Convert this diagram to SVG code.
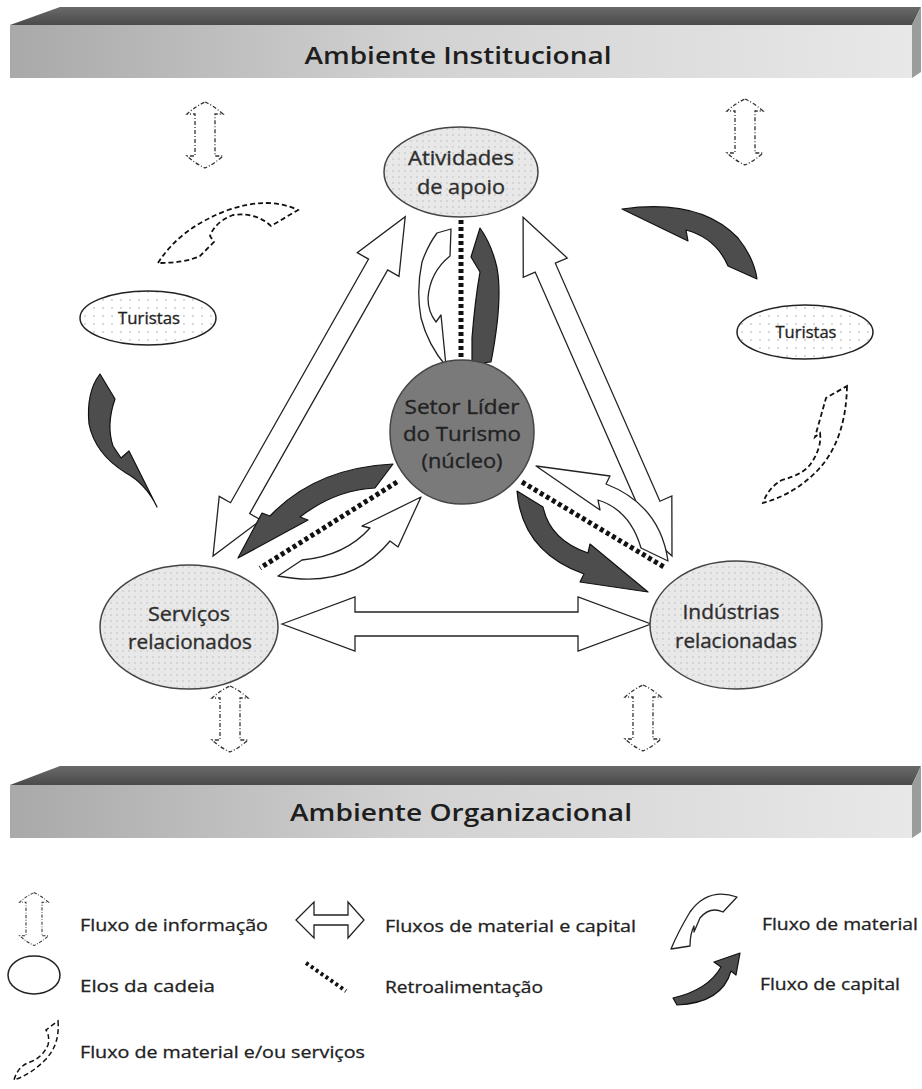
<svg xmlns="http://www.w3.org/2000/svg" width="922" height="1089" viewBox="0 0 922 1089">
<defs>
<linearGradient id="gFront" x1="0" y1="0" x2="1" y2="0">
<stop offset="0" stop-color="#a9a9a9"/><stop offset="0.45" stop-color="#d2d2d2"/><stop offset="1" stop-color="#e8e8e8"/>
</linearGradient>
<linearGradient id="gTop" x1="0" y1="0" x2="0" y2="1">
<stop offset="0" stop-color="#6a6a6a"/><stop offset="1" stop-color="#4a4a4a"/>
</linearGradient>
<pattern id="dots" width="6" height="6" patternUnits="userSpaceOnUse">
<rect width="6" height="6" fill="#e8e8e8"/><circle cx="3" cy="3" r="0.7" fill="#b5b5b5"/>
</pattern>
<pattern id="dotsW" width="9" height="8" patternUnits="userSpaceOnUse">
<rect width="9" height="8" fill="#ffffff"/><circle cx="4" cy="4" r="0.8" fill="#aaaaaa"/>
</pattern>
<path id="infoS" d="M0,-33 Q9,-29 18,-21 L10,-21 L10,21 L18,21 Q9,29 0,33 Q-9,29 -18,21 L-10,21 L-10,-21 L-18,-21 Q-9,-29 0,-33 Z"/>
</defs>
<style>
.bartxt{font-family:"Open Sans","Liberation Sans",sans-serif;font-weight:600;font-size:24px;fill:#1e1e1e}
.ntxt{font-family:"Open Sans","Liberation Sans",sans-serif;font-size:20px;fill:#2e2e2e;stroke:#2e2e2e;stroke-width:0.35;text-anchor:middle}
.ttxt{font-family:"Open Sans","Liberation Sans",sans-serif;font-size:16px;fill:#222;stroke:#222;stroke-width:0.3;text-anchor:middle}
.ltxt{font-family:"Open Sans","Liberation Sans",sans-serif;font-size:17px;fill:#222;stroke:#222;stroke-width:0.3}
.infoA{fill:#fff;stroke:#333;stroke-width:1.3;stroke-dasharray:4 2 1 2}
.dash{fill:#fff;stroke:#111;stroke-width:1.8;stroke-dasharray:5 3}
.dbl{fill:#fff;stroke:#222;stroke-width:1.3;stroke-linejoin:miter}
.mat{fill:#fff;stroke:#222;stroke-width:1.3;stroke-linejoin:round}
.cap{fill:#4d4d4d;stroke:#111;stroke-width:1.2;stroke-linejoin:round}
.fb{fill:none;stroke:#111;stroke-width:5;stroke-dasharray:4 3}
.node{stroke:#444;stroke-width:1.5}
</style>

<g id="bar-institucional">
<polygon points="10,25 60,7 921,7 912,25" fill="url(#gTop)"/>
<polygon points="912,25 921,7 921,72 912,78" fill="#9c9c9c"/>
<rect x="10" y="25" width="902" height="53" fill="url(#gFront)"/>
<text class="bartxt" x="458" y="64" text-anchor="middle" textLength="307" lengthAdjust="spacingAndGlyphs">Ambiente Institucional</text>
</g>

<g id="bar-organizacional">
<polygon points="10,785 60,766 921,766 912,785" fill="url(#gTop)"/>
<polygon points="912,785 921,766 921,832 912,838" fill="#9c9c9c"/>
<rect x="10" y="785" width="902" height="53" fill="url(#gFront)"/>
<text class="bartxt" x="461" y="821" text-anchor="middle" textLength="342" lengthAdjust="spacingAndGlyphs">Ambiente Organizacional</text>
</g>

<g id="connectors">
<use href="#infoS" class="infoA" transform="translate(205,135)"/>
<use href="#infoS" class="infoA" transform="translate(745,132)"/>
<use href="#infoS" class="infoA" transform="translate(230,719)"/>
<use href="#infoS" class="infoA" transform="translate(643,718)"/>

<path class="dbl" transform="translate(213,556) rotate(-60.47)" d="M0,0 L55,-24 L55,-11 L335,-11 L335,-24 L390,0 L335,24 L335,11 L55,11 L55,24 Z"/>
<path class="dbl" transform="translate(672,556) rotate(-113.73)" d="M0,0 L55,-24 L55,-11 L315,-11 L315,-24 L370,0 L315,24 L315,11 L55,11 L55,24 Z"/>
<path class="dbl" d="M282,624 L355,597 L355,612 L578,612 L578,597 L651,624 L578,651 L578,636 L355,636 L355,651 Z"/>

<line class="fb" x1="461" y1="220" x2="461" y2="360"/>
<line class="fb" x1="397" y1="482" x2="260" y2="568"/>
<line class="fb" x1="522" y1="482" x2="664" y2="567"/>

<path class="mat" d="M437,233 L451,229 L450,256 Q430,272 428,298 Q428,312 436,322 L441,315 L446,366 Q428,345 421,318 Q416,290 422,262 Q428,245 437,233 Z"/>
<path class="cap" d="M472,364 L472,338 Q475,300 480,272 L471,257 L480,228 Q492,245 497,268 Q503,300 491,362 Z"/>
<path class="cap" d="M393,464 L375,488 Q335,490 300,517 L308,520 L238,558 L262,513 L270,516 Q315,468 393,464 Z"/>
<path class="mat" d="M278,576 L302,560 Q345,556 370,528 L362,526 L421,497 L398,547 L390,541 Q350,590 278,576 Z"/>
<path class="mat" d="M668,561 L641,548 Q630,510 598,500 L600,510 L536,466 L610,476 L606,484 Q660,505 668,561 Z"/>
<path class="cap" d="M517,491 L543,507 Q550,540 588,553 L590,544 L648,592 L580,582 L584,574 Q522,552 517,491 Z"/>

<path class="cap" d="M622,209 Q700,198 738,238 Q754,258 757,279 L728,266 Q716,238 686,230 L688,241 Z"/>
<path class="cap" d="M100,374 L115,399 Q106,425 113,446 L121,458 L129,451 L157,507 Q146,484 126,473 Q95,454 89,424 Q86,392 100,374 Z"/>
<path class="dash" d="M158,263 Q180,228 228,210 Q268,196 298,210 L271,226 Q256,212 233,215 Q215,222 210,236 L214,242 L200,256 Q185,263 158,263 Z"/>
<path class="dash" d="M847,386 Q846,440 818,470 Q795,494 763,503 Q768,488 782,480 Q805,474 812,462 Q822,446 820,433 L815,437 L826,398 Z"/>
</g>

<g id="node-atividades">
<ellipse class="node" cx="461" cy="172" rx="77" ry="45" fill="url(#dots)"/>
<text class="ntxt" x="461" y="165" textLength="106" lengthAdjust="spacingAndGlyphs">Atividades</text>
<text class="ntxt" x="461" y="194" textLength="88" lengthAdjust="spacingAndGlyphs">de apoio</text>
</g>
<g id="node-setor">
<circle class="node" cx="462" cy="432" r="72" fill="#7a7a7a" stroke="#333"/>
<text class="ntxt" x="462" y="414" textLength="115" lengthAdjust="spacingAndGlyphs" style="fill:#222;stroke:#222">Setor Líder</text>
<text class="ntxt" x="462" y="441" textLength="118" lengthAdjust="spacingAndGlyphs" style="fill:#222;stroke:#222">do Turismo</text>
<text class="ntxt" x="462" y="468" textLength="81" lengthAdjust="spacingAndGlyphs" style="fill:#222;stroke:#222">(núcleo)</text>
</g>
<g id="node-servicos">
<ellipse class="node" cx="189" cy="627" rx="89" ry="62" fill="url(#dots)"/>
<text class="ntxt" x="189" y="621" textLength="82" lengthAdjust="spacingAndGlyphs">Serviços</text>
<text class="ntxt" x="190" y="649" textLength="124" lengthAdjust="spacingAndGlyphs">relacionados</text>
</g>
<g id="node-industrias">
<ellipse class="node" cx="736" cy="625" rx="86" ry="64" fill="url(#dots)"/>
<text class="ntxt" x="731" y="619" textLength="97" lengthAdjust="spacingAndGlyphs">Indústrias</text>
<text class="ntxt" x="736" y="648" textLength="122" lengthAdjust="spacingAndGlyphs">relacionadas</text>
</g>
<g id="node-turistas-esq">
<ellipse cx="148" cy="318" rx="68" ry="27" fill="url(#dotsW)" stroke="#222" stroke-width="1.5"/>
<text class="ttxt" x="149" y="324" textLength="62" lengthAdjust="spacingAndGlyphs">Turistas</text>
</g>
<g id="node-turistas-dir">
<ellipse cx="805" cy="332" rx="68" ry="27" fill="url(#dotsW)" stroke="#222" stroke-width="1.5"/>
<text class="ttxt" x="806" y="338" textLength="61" lengthAdjust="spacingAndGlyphs">Turistas</text>
</g>

<g id="legend">
<use href="#infoS" class="infoA" transform="translate(34,919) scale(0.8)"/>
<text class="ltxt" x="80" y="931" textLength="188" lengthAdjust="spacingAndGlyphs">Fluxo de informação</text>
<path class="dbl" d="M296,920 L314,902 L314,915 L348,915 L348,902 L364,920 L348,938 L348,925 L314,925 L314,938 Z"/>
<text class="ltxt" x="385" y="932" textLength="251" lengthAdjust="spacingAndGlyphs">Fluxos de material e capital</text>
<path class="mat" d="M737,897 Q708,887 690,912 Q678,932 671,949 L690,946 Q690,934 694,926 L694,932 L700,918 Q710,906 723,912 Z"/>
<text class="ltxt" x="762" y="930" textLength="156" lengthAdjust="spacingAndGlyphs">Fluxo de material</text>
<ellipse cx="34" cy="975" rx="26" ry="19" fill="#fff" stroke="#222" stroke-width="1.5"/>
<text class="ltxt" x="80" y="992" textLength="135" lengthAdjust="spacingAndGlyphs">Elos da cadeia</text>
<line x1="306" y1="963" x2="346" y2="991" stroke="#111" stroke-width="4" stroke-dasharray="3 3"/>
<text class="ltxt" x="385" y="993" textLength="158" lengthAdjust="spacingAndGlyphs">Retroalimentação</text>
<path class="cap" d="M740,953 L714,962 L721,967 Q708,990 673,998 L677,1005 Q722,1003 731,971 L736,975 Z"/>
<text class="ltxt" x="760" y="990" textLength="140" lengthAdjust="spacingAndGlyphs">Fluxo de capital</text>
<path class="dash" style="stroke-width:1.5" d="M58,1021 Q60,1045 45,1060 Q30,1075 14,1080 Q18,1066 30,1062 Q42,1058 48,1045 Q50,1036 46,1030 Z"/>
<text class="ltxt" x="80" y="1058" textLength="285" lengthAdjust="spacingAndGlyphs">Fluxo de material e/ou serviços</text>
</g>
</svg>
